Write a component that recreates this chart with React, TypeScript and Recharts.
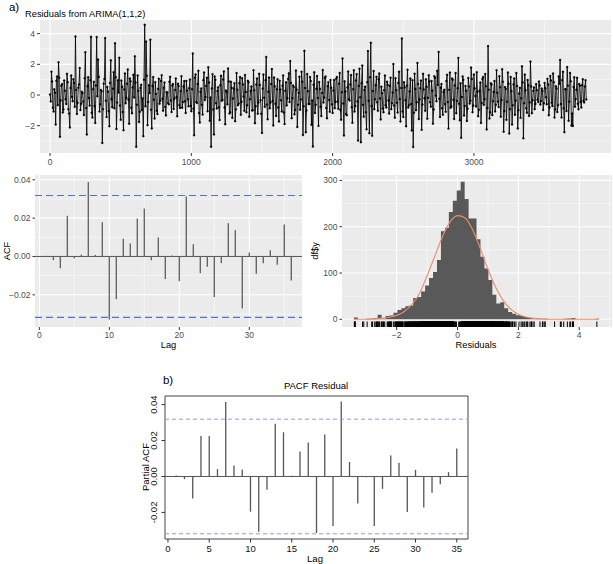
import React from "react";
import {
  LineChart,
  Line,
  XAxis,
  YAxis,
  CartesianGrid,
  ReferenceLine,
  ComposedChart,
  Area,
  Scatter,
  ReferenceArea,
} from "recharts";

// ---------------- DATA ----------------
const residualsA: number[] = [
  0.04, 1.52, -0.83, 0.37, -1.93, 1.21, 2.13, -2.72, 0.61, -1.14, 0.95, -0.27, 1.38, -0.92, -2.11, 1.27, -0.41, 0.78, 3.81, -1.23,
  0.48, 1.76, -0.57, 0.12, -1.31, 2.79, -2.58, 1.16, -0.69, 3.79, -1.47, 0.86, -1.82, 3.78, 2.31, -1.08, 0.33, -3.12, 0.74, 3.72,
  -1.44, 0.22, -2.03, 2.26, -0.79, 1.49, 3.38, -2.21, 0.97, 2.43, -1.62, 0.53, -2.29, 1.41, -0.18, 1.67, -1.88, 0.89, -1.19, 1.32,
  2.52, -3.38, 1.28, -1.76, 0.46, -0.98, -2.68, 4.58, 3.49, -1.97, 0.64, 3.61, -2.18, 1.17, -1.53, 0.07, -1.24, 1.06, -0.38, 1.29,
  -1.02, 0.81, -1.33, 0.16, -0.61, 1.19, -1.11, 0.72, -0.24, 1.08, -1.39, 0.58, -0.84, 1.23, -0.46, 0.91, -1.17, 0.29, -0.73, 1.01,
  -1.06, 2.71, -2.62, 1.34, -0.52, 1.58, -1.79, 0.43, -1.27, 1.47, -0.13, 1.12, 1.81, -1.68, -3.37, 1.36, -2.57, 0.99, -0.88, 0.51,
  -1.63, 1.26, -0.31, 1.54, -1.91, 0.19, 1.73, -1.21, 0.87, -1.49, 0.41, -1.71, 1.43, -0.66, 0.76, -1.29, 1.09, -0.09, 1.31, -1.13,
  0.93, -1.42, 0.26, -1.01, 1.61, -1.84, 0.68, -1.22, 1.39, -0.34, -2.47, 1.33, -0.77, 2.48, -1.58, 1.14, -0.49, 1.69, -1.98, 0.56,
  -1.36, 1.03, -1.73, 0.36, -1.07, 1.28, -1.89, 0.83, -0.21, 1.42, 2.21, -1.51, 0.62, -1.26, 1.59, -2.08, 0.14, -0.96, 1.51, -2.61,
  2.88, -2.43, 1.37, -0.58, 1.18, -1.94, -3.36, 1.48, -0.63, 1.24, -2.01, 0.39, -1.37, 1.63, -0.17, 1.21, -1.52, 0.84, -1.09, 0.47,
  -1.18, 0.98, -0.44, 1.17, -0.89, 1.44, -1.61, 2.38, -2.64, 0.23, -1.32, 1.53, -0.36, 1.31, -1.81, 1.62, -0.71, 1.36, -2.97, 1.71,
  -3.08, 1.92, -1.41, 0.54, -2.23, 2.87, -2.49, 3.41, -2.66, 1.57, -0.28, 1.19, -1.03, 1.41, -1.59, 0.11, -1.12, 1.27, -0.82, 0.66,
  -1.21, 1.13, -0.53, 2.02, -1.48, 0.31, -1.14, 1.52, -1.72, 3.69, -1.43, 0.49, -2.04, 1.64, -0.67, 1.07, -2.31, -3.39, 1.39, -0.99,
  2.09, -1.57, 0.44, -2.27, 1.38, -0.21, 1.02, -1.54, 1.29, -0.47, 0.92, -1.87, 1.23, -0.03, 1.58, 2.81, -1.44, 0.71, -1.28, 0.34,
  -1.09, 1.32, -2.19, 1.46, -0.74, 0.99, -1.56, 1.43, -0.39, 2.42, -1.64, -2.79, 1.21, -1.34, 0.59, -1.69, 1.11, -0.56, 1.79, -1.12,
  1.34, -0.06, 1.49, -1.38, 0.28, -1.82, 1.04, -0.64, 1.37, -2.24, 3.19, -1.53, 0.76, -1.31, 0.19, -1.07, 1.61, -0.43, 1.22, -1.41,
  1.68, -2.39, 0.52, -1.62, 1.47, -2.51, 1.18, -1.93, 0.69, -1.29, 1.43, -2.18, 0.09, -1.49, 1.87, -2.82, 1.33, -0.86, 0.98, -1.36,
  2.18, -1.19, 0.27, -0.92, 0.71, -0.31, 0.88, -0.62, 0.42, -0.97, 0.79, -0.14, 1.06, -1.32, 1.24, -0.51, 1.41, -1.47, 0.57, -1.11,
  1.21, 2.29, -1.46, 1.52, -2.42, 0.37, 1.82, -1.67, 1.44, -1.99, -2.02, 1.16, -0.26, 1.12, -0.93, 0.61, -0.81, 1.03, -0.48, 0.97,
];
// ... and the observations in between, at t = 5, 15, 25, ...
const residualsB: number[] = [
  -0.42, 0.88, -1.07, 0.15, 0.93, -0.66, 1.12, -0.35, 0.71, -0.94, 0.27, -0.58, 0.83, -1.21, 0.46, -0.12, 1.03, -0.77, 0.32, -0.51,
  0.69, -0.98, 0.21, -0.43, 1.09, -0.85, 0.57, -0.19, 0.96, -1.16, 0.38, -0.72, 0.62, -0.08, 1.18, -0.61, 0.24, -0.92, 1.05, -0.37,
  0.53, -1.04, 0.79, -0.26, 0.41, -0.87, 1.15, -0.48, 0.17, -0.69, 0.94, -1.11, 0.36, -0.54, 0.73, -0.29, 1.07, -0.83, 0.49, -0.16,
  0.82, -0.63, 0.28, -1.09, 0.67, -0.22, 0.99, -0.74, 1.26, -0.45, 0.13, -0.96, 0.58, -0.31, 0.84, -1.02, 0.39, -0.57, 0.91, -0.24,
  0.47, -0.78, 0.18, -0.52, 0.86, -0.35, 0.62, -0.91, 0.33, -0.14, 0.74, -0.67, 0.25, -0.83, 0.56, -0.41, 0.92, -0.28, 0.44, -0.71,
  0.37, -0.89, 1.13, -0.46, 0.72, -1.18, 0.21, -0.64, 0.97, -0.33, 0.59, -1.06, 0.81, -0.17, 0.43, -0.95, 1.21, -0.53, 0.26, -0.79,
  0.64, -0.38, 1.01, -0.82, 0.29, -0.61, 0.88, -1.13, 0.47, -0.23, 0.77, -0.94, 0.34, -0.56, 1.17, -0.44, 0.69, -1.03, 0.19, -0.66,
  0.83, -0.27, 0.55, -0.99, 0.31, -0.73, 1.08, -0.48, 0.65, -1.22, 0.42, -0.18, 0.96, -0.62, 0.22, -0.87, 0.71, -0.39, 1.14, -0.57,
  0.38, -0.81, 0.93, -0.34, 0.61, -1.14, 0.27, -0.68, 1.04, -0.45, 0.79, -0.21, 0.52, -0.97, 0.35, -0.63, 1.19, -0.29, 0.86, -0.74,
  0.46, -1.01, 0.24, -0.58, 0.92, -0.36, 0.67, -1.17, 0.41, -0.19, 0.85, -0.77, 0.13, -0.49, 1.11, -0.84, 0.57, -0.32, 0.98, -0.61,
  0.29, -0.86, 1.06, -0.43, 0.74, -0.97, 0.18, -0.55, 0.89, -1.24, 0.49, -0.27, 0.68, -0.79, 0.37, -1.08, 0.95, -0.42, 0.59, -0.15,
  0.77, -0.64, 0.32, -1.12, 0.84, -0.38, 1.16, -0.71, 0.26, -0.93, 0.63, -0.47, 1.02, -0.22, 0.54, -0.88, 0.31, -0.66, 0.87, -0.35,
  0.58, -0.92, 0.16, -0.69, 1.09, -0.51, 0.79, -0.26, 0.45, -1.07, 0.83, -0.34, 0.61, -0.81, 0.23, -0.58, 0.97, -1.15, 0.39, -0.47,
  0.72, -0.29, 0.94, -0.62, 0.36, -1.03, 0.53, -0.18, 0.88, -0.76, 0.27, -0.95, 1.13, -0.41, 0.66, -0.24, 0.48, -0.87, 0.19, -0.59,
  0.91, -0.46, 0.34, -0.83, 1.07, -0.31, 0.62, -1.19, 0.44, -0.57, 0.76, -0.13, 0.99, -0.72, 0.28, -0.89, 0.55, -0.37, 1.04, -0.68,
  0.43, -0.75, 0.21, -0.96, 0.81, -0.52, 1.18, -0.27, 0.57, -0.84, 0.35, -1.13, 0.69, -0.41, 0.92, -0.63, 0.14, -0.78, 0.51, -0.33,
  0.86, -1.05, 0.39, -0.44, 0.73, -0.92, 0.25, -0.67, 1.08, -0.36, 0.58, -0.99, 0.47, -0.21, 0.82, -0.54, 0.31, -1.16, 0.64, -0.48,
  0.56, -0.34, 0.49, -0.58, 0.31, -0.46, 0.62, -0.39, 0.27, -0.53, 0.44, -0.61, 0.68, -0.82, 0.95, -0.71, 0.83, -0.94, 0.42, -0.66,
  0.74, -0.59, 0.97, -0.87, 0.38, -1.04, 0.61, -0.43, 0.89, -1.21, 0.52, -0.76, 0.34, -0.57, 0.71, -0.46, 0.63, -0.38, 0.55, -0.29,
];
const residualTimeStep = 10;

// ACF (lags 1..36)
const acfValues: number[] = [
  0.0003, -0.0019, -0.0061, 0.0212, -0.001, 0.001, 0.0388, 0.0008, 0.0179, -0.0329,
  -0.0223, 0.0092, 0.0068, 0.0198, 0.025, -0.002, 0.0099, -0.0118, 0.0005, -0.0129,
  0.0313, 0.0064, -0.0087, -0.0054, -0.0212, -0.0035, 0.0174, 0.0137, -0.0271, 0.0021,
  -0.009, -0.0035, 0.0033, -0.0043, 0.0167, -0.0125,
];
const acfBound = 0.0318;

// PACF (lags 1..35)
const pacfValues: number[] = [
  0.0006, -0.0015, -0.0122, 0.0226, 0.0226, 0.0041, 0.0415, 0.0061, 0.0039, -0.0196,
  -0.0307, -0.0074, 0.0294, 0.0246, 0.0004, 0.0139, 0.0189, -0.0315, 0.0233, -0.0276,
  0.0418, 0.0081, -0.015, -0.0004, -0.0276, -0.0069, 0.0117, 0.0076, -0.0198, 0.0037,
  -0.0172, -0.0091, -0.0043, 0.0024, 0.0156,
];
const pacfBound = 0.0319;

// Histogram of residuals
const histFirstEdge = -3.405;
const histBinWidth = 0.13;
const histCounts: number[] = [
  4, 0, 0, 1, 1, 3, 10, 2, 7, 8, 14, 20, 24, 28, 30, 46, 48, 60, 73, 89,
  102, 128, 190, 198, 232, 256, 278, 297, 260, 218, 218, 173, 135, 110, 85, 53, 34, 37, 24, 16,
  12, 9, 7, 5, 3, 3, 2, 1, 1, 0, 0, 0, 0, 1, 2, 3, 0, 0, 0, 0, 0, 1,
];

// Fitted normal curve
const normalX: number[] = [-3.4, -3, -2.5, -2.25, -2, -1.75, -1.5, -1.25, -1, -0.75, -0.5, -0.25, 0, 0.25, 0.5, 0.75, 1, 1.25, 1.5, 1.75, 2, 2.25, 2.5, 3, 3.5, 4, 4.65];
const normalY: number[] = [0, 0.3, 2, 4.5, 8.5, 17, 32, 56, 94, 136, 178, 210, 224, 219, 193, 153, 108, 70, 41, 22, 11, 5, 2, 0.3, 0, 0, 0];

// Ticks / gridlines
const topXTicks = [0, 1000, 2000, 3000];
const topXMinor = [500, 1500, 2500, 3500];
const topYTicks = [-2, 0, 2, 4];
const topYMinor = [-3, -1, 1, 3];
const acfXTicks = [0, 10, 20, 30];
const acfXMinor = [5, 15, 25, 35];
const acfYTicks = [-0.02, 0, 0.02, 0.04];
const acfYMinor = [-0.03, -0.01, 0.01, 0.03];
const histXTicks = [-2, 0, 2, 4];
const histXMinor = [-3, -1, 1, 3, 5];
const histYTicks = [0, 100, 200, 300];
const histYMinor = [50, 150, 250];
const pacfXTicks = [0, 5, 10, 15, 20, 25, 30, 35];
const pacfYTicks = [-0.02, 0, 0.02, 0.04];

// ---------------- DERIVED TABLES ----------------
const topData: { t: number; v: number }[] = [];
residualsA.forEach((v, i) => {
  topData.push({ t: i * residualTimeStep, v });
  topData.push({ t: i * residualTimeStep + residualTimeStep / 2, v: residualsB[i] });
});
const allResiduals = topData.map((d) => d.v);
const acfData = acfValues.map((v, i) => ({ lag: i + 1, v }));
const pacfData = pacfValues.map((v, i) => ({ lag: i + 1, v }));
const histData = [
  ...histCounts.map((c, i) => ({ x: histFirstEdge + i * histBinWidth, y: c })),
  { x: histFirstEdge + histCounts.length * histBinWidth, y: histCounts[histCounts.length - 1] },
];
const normalData = normalX.map((x, i) => ({ x, y: normalY[i] }));

const TOP_X = [-71, 3970];
const TOP_Y = [-3.78, 4.89];
const ACF_X = [-0.62, 37.53];
const ACF_Y = [-0.0368, 0.0425];
const HIST_X = [-3.796, 5.077];
const HIST_Y = [-16.6, 311.7];
const PACF_X = [-0.36, 36.36];
const PACF_Y = [-0.0348, 0.0448];

const rugData = allResiduals.map((v) => ({ x: v, y: HIST_Y[0] }));

// ---------------- STYLE ----------------
const FONT = "'Liberation Sans', Arial, Helvetica, sans-serif";
const GG_TICK = { fontSize: 8.5, fill: "#4d4d4d", fontFamily: FONT };
const BASE_TICK = { fontSize: 9.5, fill: "#111", fontFamily: FONT };
const ggNum = (v: number, d = 0) => v.toFixed(d).replace("-", "\u2212");

function Txt({ x, y, size, rotate = 0, anchor = "middle", children }: any) {
  const tx = anchor === "start" ? "0" : "-50%";
  return (
    <div
      style={{
        position: "absolute",
        left: x,
        top: y,
        transform: `translate(${tx},-50%) rotate(${rotate}deg)`,
        fontSize: size,
        fontFamily: FONT,
        whiteSpace: "nowrap",
        lineHeight: 1,
        color: "#000",
      }}
    >
      {children}
    </div>
  );
}

const RotYTick = (props: any) => {
  const { x, y, payload } = props;
  return (
    <text
      x={x}
      y={y}
      transform={`rotate(-90, ${x}, ${y})`}
      textAnchor="middle"
      fontSize={9.5}
      fontFamily={FONT}
      fill="#111"
    >
      {payload.value.toFixed(2)}
    </text>
  );
};

const RugMark = (props: any) => {
  const { cx, cy } = props;
  return <line x1={cx} x2={cx} y1={cy} y2={cy - 5.5} stroke="#000" strokeWidth={1} />;
};

export default function App() {
  return (
    <div style={{ position: "absolute", left: 0, top: 0, width: 613, height: 564, background: "#fff", overflow: "hidden" }}>
      {/* ---- Top: residual time series ---- */}
      <div style={{ position: "absolute", left: 0, top: 0 }}>
        <LineChart width={613} height={175} data={topData} margin={{ top: 20, right: 2, bottom: 0, left: 0 }}>
          <CartesianGrid fill="#EBEBEB" stroke="#fff" strokeWidth={0.5} horizontalValues={topYMinor} verticalValues={topXMinor} />
          <CartesianGrid stroke="#fff" strokeWidth={1.1} horizontalValues={topYTicks} verticalValues={topXTicks} />
          <XAxis dataKey="t" type="number" domain={TOP_X} ticks={topXTicks} allowDataOverflow interval={0}
            axisLine={false} tickLine={{ stroke: "#333" }} tickSize={3} tickMargin={2.5} height={22} tick={GG_TICK} />
          <YAxis type="number" domain={TOP_Y} ticks={topYTicks} allowDataOverflow interval={0} width={40}
            axisLine={false} tickLine={{ stroke: "#333" }} tickSize={3} tickMargin={2} tick={GG_TICK}
            tickFormatter={(v: number) => ggNum(v)} />
          <Line dataKey="v" stroke="#000" strokeWidth={0.85} isAnimationActive={false}
            dot={{ r: 1, fill: "#000", stroke: "#000", strokeWidth: 0.3 }} activeDot={false} />
        </LineChart>
      </div>

      {/* ---- ACF ---- */}
      <div style={{ position: "absolute", left: 0, top: 165 }}>
        <ComposedChart width={310} height={185} data={acfData} margin={{ top: 10, right: 8, bottom: 0, left: 0 }}>
          <CartesianGrid fill="#EBEBEB" stroke="#fff" strokeWidth={0.5} horizontalValues={acfYMinor} verticalValues={acfXMinor} />
          <CartesianGrid stroke="#fff" strokeWidth={1.1} horizontalValues={acfYTicks} verticalValues={acfXTicks} />
          <XAxis dataKey="lag" type="number" domain={ACF_X} ticks={acfXTicks} allowDataOverflow interval={0}
            axisLine={false} tickLine={{ stroke: "#333" }} tickSize={3} tickMargin={1.5} height={23} tick={GG_TICK} />
          <YAxis type="number" domain={ACF_Y} ticks={acfYTicks} allowDataOverflow interval={0} width={35}
            axisLine={false} tickLine={{ stroke: "#333" }} tickSize={2.5} tickMargin={2} tick={GG_TICK}
            tickFormatter={(v: number) => ggNum(v, 2)} />
          <Line dataKey="v" stroke="none" dot={false} activeDot={false} isAnimationActive={false} />
          <ReferenceLine y={0} stroke="#555" strokeWidth={1} />
          {acfData.map((d) => (
            <ReferenceLine key={d.lag} segment={[{ x: d.lag, y: 0 }, { x: d.lag, y: d.v }]} stroke="#666" strokeWidth={1.4} />
          ))}
          <ReferenceLine y={acfBound} stroke="#4f73cf" strokeWidth={1.2} strokeDasharray="7 4" />
          <ReferenceLine y={-acfBound} stroke="#4f73cf" strokeWidth={1.2} strokeDasharray="7 4" />
        </ComposedChart>
      </div>

      {/* ---- Histogram ---- */}
      <div style={{ position: "absolute", left: 300, top: 165 }}>
        <ComposedChart width={313} height={185} margin={{ top: 10, right: 1, bottom: 0, left: 0 }}>
          <CartesianGrid fill="#EBEBEB" stroke="#fff" strokeWidth={0.5} horizontalValues={histYMinor} verticalValues={histXMinor} />
          <CartesianGrid stroke="#fff" strokeWidth={1.1} horizontalValues={histYTicks} verticalValues={histXTicks} />
          <XAxis dataKey="x" type="number" domain={HIST_X} ticks={histXTicks} allowDataOverflow interval={0}
            axisLine={false} tickLine={{ stroke: "#333" }} tickSize={3} tickMargin={1.5} height={23} tick={GG_TICK}
            tickFormatter={(v: number) => ggNum(v)} />
          <YAxis dataKey="y" type="number" domain={HIST_Y} ticks={histYTicks} allowDataOverflow interval={0} width={42}
            axisLine={false} tickLine={{ stroke: "#333" }} tickSize={2.5} tickMargin={2} tick={GG_TICK} />
          <Area data={histData} dataKey="y" type="stepAfter" baseValue={0} fill="#595959" fillOpacity={1}
            stroke="none" isAnimationActive={false} dot={false} activeDot={false} />
          <Line data={normalData} dataKey="y" type="monotone" stroke="#ef8a6e" strokeWidth={1.1}
            dot={false} activeDot={false} isAnimationActive={false} />
          <Scatter data={rugData} shape={RugMark} isAnimationActive={false} />
        </ComposedChart>
      </div>

      {/* ---- PACF (base graphics style) ---- */}
      <div style={{ position: "absolute", left: 140, top: 375 }}>
        <ComposedChart width={340} height={189} data={pacfData} margin={{ top: 21, right: 12, bottom: 0, left: 0 }}>
          <XAxis dataKey="lag" type="number" domain={PACF_X} ticks={pacfXTicks} allowDataOverflow interval={0}
            axisLine={false} tickLine={{ stroke: "#333" }} tickSize={3.5} tickMargin={3} height={25} tick={BASE_TICK} />
          <YAxis type="number" domain={PACF_Y} ticks={pacfYTicks} allowDataOverflow interval={0} width={25}
            axisLine={false} tickLine={{ stroke: "#333" }} tickSize={3.5} tickMargin={4} tick={<RotYTick />} />
          <Line dataKey="v" stroke="none" dot={false} activeDot={false} isAnimationActive={false} />
          <ReferenceArea x1={PACF_X[0]} x2={PACF_X[1]} y1={PACF_Y[0]} y2={PACF_Y[1]} fill="none" fillOpacity={0}
            stroke="#444" strokeWidth={1} ifOverflow="visible" />
          <ReferenceLine y={0} stroke="#555" strokeWidth={1} />
          {pacfData.map((d) => (
            <ReferenceLine key={d.lag} segment={[{ x: d.lag, y: 0 }, { x: d.lag, y: d.v }]} stroke="#555" strokeWidth={1.3} />
          ))}
          <ReferenceLine y={pacfBound} stroke="#86a0e2" strokeWidth={1} strokeDasharray="4 3" />
          <ReferenceLine y={-pacfBound} stroke="#86a0e2" strokeWidth={1} strokeDasharray="4 3" />
        </ComposedChart>
      </div>

      {/* ---- Text ---- */}
      <Txt x={14} y={8} size={11.5}>a)</Txt>
      <Txt x={25} y={15} size={9.3} anchor="start">Residuals from ARIMA(1,1,2)</Txt>
      <Txt x={8} y={251} size={9.3} rotate={-90}>ACF</Txt>
      <Txt x={168.5} y={345.5} size={9.3}>Lag</Txt>
      <Txt x={316} y={251} size={9.3} rotate={-90}>df$y</Txt>
      <Txt x={476} y={345.5} size={9.3}>Residuals</Txt>
      <Txt x={168} y={381} size={11.5}>b)</Txt>
      <Txt x={316} y={385.5} size={9.5}>PACF Residual</Txt>
      <Txt x={146} y={467} size={9.5} rotate={-90}>Partial ACF</Txt>
      <Txt x={315} y={558.5} size={9.5}>Lag</Txt>
    </div>
  );
}
